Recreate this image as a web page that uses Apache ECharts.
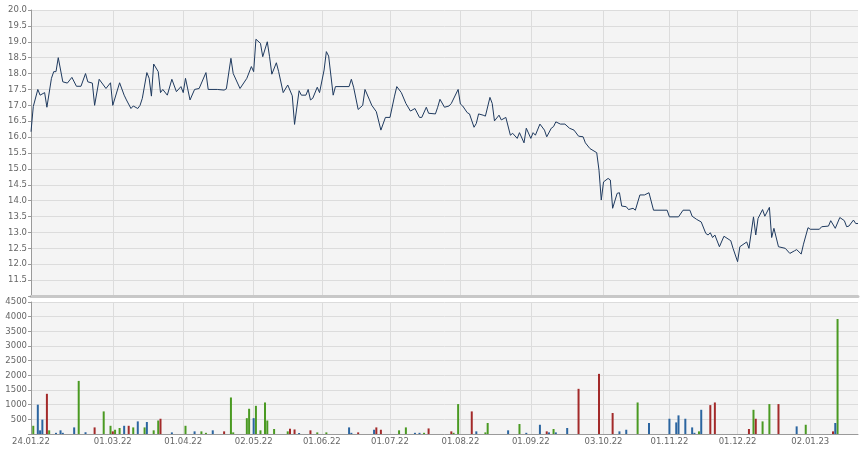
<!DOCTYPE html>
<html>
<head>
<meta charset="utf-8">
<script src="https://cdn.jsdelivr.net/npm/echarts@6/dist/echarts.min.js"></script>
<style>
  html, body { margin: 0; padding: 0; background: #ffffff; }
  #chart { width: 868px; height: 452px; }
</style>
</head>
<body>
<div id="chart"></div>
<script>
// ---- DATA ----
const startDate = '2022-01-24';
const endDate = '2023-01-23';
// tick label dates (first trading day of month)
const tickDates = ['2022-01-24', '2022-03-01', '2022-04-01', '2022-05-02', '2022-06-01', '2022-07-01',
  '2022-08-01', '2022-09-01', '2022-10-03', '2022-11-01', '2022-12-01', '2023-01-02'];
const priceTicks = [11.5, 12.0, 12.5, 13.0, 13.5, 14.0, 14.5, 15.0, 15.5, 16.0, 16.5, 17.0, 17.5, 18.0, 18.5, 19.0, 19.5, 20.0];
const volumeTicks = [500, 1000, 1500, 2000, 2500, 3000, 3500, 4000, 4500];

// price: [days since startDate, price]
const pricePoints = [[0,16.17],[1,16.96],[3,17.50],[4,17.32],[6,17.40],[7,16.94],[9,17.85],[10,18.06],[11,18.06],[12,18.50],[14,17.74],[16,17.70],[18,17.88],[20,17.60],[22,17.60],[24,18.00],[25,17.74],[27,17.70],[28,17.00],[30,17.82],[33,17.53],[35,17.71],[36,17.00],[39,17.71],[41,17.32],[42,17.17],[44,16.90],[45,16.98],[47,16.90],[48,17.00],[49,17.22],[51,18.03],[52,17.85],[53,17.29],[54,18.30],[56,18.06],[57,17.40],[58,17.50],[60,17.32],[62,17.82],[64,17.43],[66,17.59],[67,17.40],[68,17.85],[70,17.17],[72,17.50],[74,17.53],[77,18.03],[78,17.50],[82,17.50],[85,17.48],[86,17.52],[88,18.48],[89,18.00],[92,17.53],[95,17.85],[97,18.22],[98,18.06],[99,19.08],[101,18.95],[102,18.53],[104,19.00],[105,18.53],[106,17.98],[108,18.34],[109,18.06],[111,17.40],[113,17.64],[115,17.30],[116,16.40],[118,17.46],[119,17.32],[121,17.32],[122,17.50],[123,17.17],[124,17.22],[126,17.57],[127,17.40],[129,18.11],[130,18.69],[131,18.55],[133,17.32],[134,17.59],[140,17.59],[141,17.82],[142,17.57],[144,16.87],[146,17.00],[147,17.50],[149,17.17],[150,17.00],[152,16.80],[154,16.22],[156,16.62],[158,16.62],[160,17.29],[161,17.59],[163,17.40],[165,17.06],[167,16.82],[169,16.90],[171,16.62],[172,16.62],[174,16.94],[175,16.75],[178,16.73],[179,16.94],[180,17.19],[182,16.94],[184,16.98],[185,17.06],[188,17.50],[189,17.04],[190,16.98],[192,16.77],[193,16.73],[195,16.31],[196,16.43],[197,16.73],[199,16.69],[200,16.66],[202,17.25],[203,17.06],[204,16.51],[206,16.69],[207,16.54],[209,16.62],[211,16.06],[212,16.12],[214,15.96],[215,16.14],[217,15.82],[218,16.28],[220,15.96],[221,16.14],[222,16.06],[224,16.41],[226,16.22],[227,16.01],[229,16.28],[230,16.33],[231,16.48],[233,16.41],[235,16.41],[237,16.28],[239,16.22],[241,16.03],[243,16.01],[244,15.82],[246,15.64],[249,15.51],[250,14.96],[251,14.02],[252,14.59],[254,14.70],[255,14.65],[256,13.76],[258,14.23],[259,14.25],[260,13.83],[262,13.81],[263,13.72],[265,13.76],[266,13.70],[268,14.18],[270,14.18],[272,14.25],[274,13.70],[280,13.70],[281,13.49],[285,13.49],[287,13.70],[290,13.70],[291,13.51],[293,13.41],[295,13.33],[297,12.97],[298,12.92],[299,12.99],[300,12.84],[301,12.92],[303,12.55],[305,12.88],[308,12.74],[309,12.50],[311,12.08],[312,12.55],[315,12.70],[316,12.50],[318,13.49],[319,12.92],[320,13.44],[322,13.72],[323,13.51],[325,13.79],[326,12.84],[327,13.13],[329,12.55],[332,12.50],[334,12.34],[336,12.42],[337,12.46],[339,12.32],[340,12.63],[342,13.15],[343,13.10],[347,13.10],[348,13.18],[351,13.20],[352,13.37],[354,13.13],[356,13.47],[358,13.37],[359,13.18],[360,13.20],[362,13.39],[363,13.28],[364,13.28]];

// volume: [days since startDate, volume], split in three groups
const volumeUp = [[1,280],[8,125],[21,1810],[32,770],[35,280],[37,145],[39,205],[45,225],[50,225],[54,125],[56,460],[68,280],[75,90],[77,40],[88,1245],[89,55],[95,540],[96,860],[99,960],[101,125],[103,1075],[104,460],[107,170],[113,90],[126,55],[130,55],[162,125],[165,225],[173,40],[186,40],[188,1020],[200,55],[201,375],[215,340],[230,170],[267,1075],[294,90],[318,825],[322,430],[325,1020],[341,315],[355,3920]];
const volumeFlat = [[3,1000],[4,125],[5,490],[11,40],[13,125],[14,40],[19,225],[24,60],[41,280],[47,430],[51,410],[62,55],[72,90],[80,125],[98,540],[118,35],[140,225],[141,40],[151,145],[169,40],[171,40],[196,90],[210,125],[218,40],[224,315],[228,55],[231,55],[236,205],[259,90],[262,145],[272,375],[281,520],[284,395],[285,635],[288,520],[291,225],[292,40],[295,825],[337,260],[354,375]];
const volumeDown = [[7,1370],[28,225],[36,90],[43,280],[57,520],[85,90],[114,180],[116,155],[123,125],[144,55],[152,225],[154,145],[175,190],[185,90],[194,770],[227,90],[241,1540],[250,2050],[256,715],[299,985],[301,1075],[316,170],[319,520],[329,1020],[353,90]];

// ---- CHART ----
const DAY = 86400000;
const toTs = d => new Date(d + 'T00:00:00Z').getTime();
const t0 = toTs(startDate);
const t1 = toTs(endDate);
const tickTs = tickDates.map(toTs);
const conv = arr => arr.map(p => [t0 + p[0] * DAY, p[1]]);
const pad = n => (n < 10 ? '0' : '') + n;
const fmtDate = v => {
  const d = new Date(v);
  return pad(d.getUTCDate()) + '.' + pad(d.getUTCMonth() + 1) + '.' + String(d.getUTCFullYear()).slice(2);
};

const FONT = 'DejaVu Sans';
const labelStyle = { fontFamily: FONT, fontSize: 8.5, color: '#666666' };
const gridLine = { show: true, lineStyle: { color: '#dcdcdc', width: 1 } };

const chart = echarts.init(document.getElementById('chart'), null, { renderer: 'canvas' });
chart.setOption({
  animation: false,
  backgroundColor: '#ffffff',
  grid: [
    { left: 31, right: 10, top: 10, height: 286, show: true, backgroundColor: '#f4f4f4', borderWidth: 0 },
    { left: 31, right: 10, top: 302, height: 132, show: true, backgroundColor: '#f4f4f4', borderWidth: 0 }
  ],
  xAxis: [
    {
      type: 'value', gridIndex: 0, min: t0, max: t1,
      axisLine: { show: true, lineStyle: { color: '#c8c8c8', width: 3 } },
      axisTick: { show: false, customValues: tickTs },
      axisLabel: { show: false, customValues: tickTs },
      splitLine: gridLine
    },
    {
      type: 'value', gridIndex: 1, min: t0, max: t1,
      axisLine: { show: true, lineStyle: { color: '#9a9a9a', width: 1 } },
      axisTick: { show: false, customValues: tickTs },
      axisLabel: Object.assign({ customValues: tickTs, formatter: fmtDate, margin: 3, hideOverlap: false,
        showMinLabel: true, showMaxLabel: true }, labelStyle),
      splitLine: gridLine
    }
  ],
  yAxis: [
    {
      type: 'value', gridIndex: 0, min: 11, max: 20, interval: 0.5,
      axisLine: { show: true, lineStyle: { color: '#9a9a9a' } },
      axisTick: { show: true, length: 3, lineStyle: { color: '#9a9a9a' } },
      axisLabel: Object.assign({
        margin: 4,
        formatter: v => (priceTicks.some(t => Math.abs(t - v) < 1e-6) ? v.toFixed(1) : '')
      }, labelStyle),
      splitLine: gridLine
    },
    {
      type: 'value', gridIndex: 1, min: 0, max: 4500, interval: 500,
      axisLine: { show: true, lineStyle: { color: '#9a9a9a' } },
      axisTick: { show: true, length: 3, lineStyle: { color: '#9a9a9a' } },
      axisLabel: Object.assign({
        margin: 4,
        formatter: v => (volumeTicks.indexOf(v) >= 0 ? String(v) : '')
      }, labelStyle),
      splitLine: gridLine
    }
  ],
  series: [
    {
      type: 'line', xAxisIndex: 0, yAxisIndex: 0, data: conv(pricePoints),
      showSymbol: false, symbol: 'none',
      lineStyle: { color: '#1f3a5f', width: 1 }
    },
    { type: 'bar', xAxisIndex: 1, yAxisIndex: 1, data: conv(volumeUp), barWidth: 2, barGap: '-100%', itemStyle: { color: '#4a9a22' } },
    { type: 'bar', xAxisIndex: 1, yAxisIndex: 1, data: conv(volumeFlat), barWidth: 2, barGap: '-100%', itemStyle: { color: '#2b65a0' } },
    { type: 'bar', xAxisIndex: 1, yAxisIndex: 1, data: conv(volumeDown), barWidth: 2, barGap: '-100%', itemStyle: { color: '#a32a2a' } }
  ]
});
</script>
</body>
</html>
